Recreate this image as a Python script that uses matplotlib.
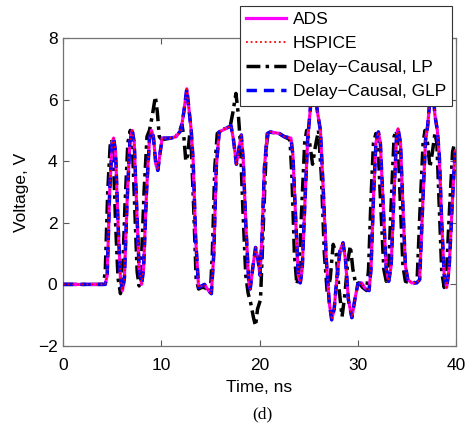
"""Transient voltage waveform comparison: ADS / HSPICE / Delay-Causal LP / GLP."""

import matplotlib
matplotlib.use("Agg")
import matplotlib.pyplot as plt

# ADS reference waveform (HSPICE and GLP overlay it almost exactly)
ads_t = [0, 4.3, 4.5, 4.75, 5.0, 5.15, 5.35, 5.6, 5.85, 6.05, 6.25, 6.5, 6.8, 7.05,
         7.25, 7.5, 7.75, 8.0, 8.2, 8.5, 8.8, 9.0, 9.2, 9.45, 9.65, 9.85, 10.1, 11.0,
         11.5, 12.0, 12.3, 12.6, 12.85, 13.05, 13.25, 13.5, 13.8, 14.1, 14.4, 14.8,
         15.1, 15.35, 15.6, 15.9, 16.5, 17.1, 17.35, 17.65, 17.9, 18.15, 18.35, 18.6,
         18.9, 19.05, 19.3, 19.6, 19.85, 20.05, 20.25, 20.5, 20.8, 21.1, 22.0, 22.5,
         23.2, 23.4, 23.7, 23.95, 24.15, 24.35, 24.6, 24.9, 25.2, 25.5, 25.9, 26.2,
         26.5, 26.8, 27.1, 27.35, 27.6, 27.9, 28.2, 28.5, 28.75, 29.05, 29.4, 29.7,
         30.0, 30.4, 30.8, 31.15, 31.35, 31.6, 31.85, 32.1, 32.3, 32.6, 32.9, 33.15,
         33.4, 33.7, 33.95, 34.1, 34.35, 34.6, 34.85, 35.1, 35.5, 36.0, 36.3, 36.6,
         36.9, 37.1, 37.4, 37.6, 37.85, 38.1, 38.3, 38.55, 38.8, 39.05, 39.3, 39.6,
         39.9, 40.0]
ads_v = [0, 0, 0.3, 3.0, 4.6, 4.75, 4.3, 2.0, 0.2, -0.2, 0.2, 2.5, 4.6, 5.0,
         4.6, 2.5, 0.5, 0.0, 0.5, 3.0, 4.7, 5.0, 4.8, 3.9, 3.7, 4.2, 4.75, 4.75,
         4.8, 5.0, 5.6, 6.35, 5.6, 5.0, 4.0, 1.5, -0.1, -0.05, 0.0, -0.2,
         -0.3, 1.0, 3.8, 4.95, 5.05, 5.15, 4.7, 3.9, 4.4, 4.85, 4.0, 2.0,
         0.1, -0.15, 0.5, 1.2, 0.8, 0.3, 1.5, 3.8, 4.9, 4.95, 4.9, 4.8,
         4.75, 4.2, 2.0, 0.3, 0.05, 0.5, 2.5, 4.7, 5.8, 6.6, 5.6, 5.0,
         3.0, 0.8, -0.6, -1.15, -0.8, 0.3, 1.1, 1.35, 0.8, -0.5, -1.08, -0.5,
         0.0, 0.05, -0.15, -0.2, 0.5, 2.8, 4.6, 4.95, 4.6, 2.5, 0.5, 0.1,
         0.6, 3.0, 4.8, 5.05, 4.6, 2.5, 0.6, 0.15, 0.05, 0.05, 0.15, 2.5,
         4.7, 5.1, 6.2, 6.6, 5.5, 5.0, 4.2, 2.0, 0.3, -0.1, 0.5, 2.5,
         4.3, 4.35]

# Delay-Causal, LP
lp_t = [0, 4.1, 4.3, 4.55, 4.8, 4.95, 5.1, 5.35, 5.6, 5.85, 6.05, 6.3, 6.6, 6.85,
        7.05, 7.3, 7.55, 7.75, 7.95, 8.25, 8.55, 8.8, 9.1, 9.4, 9.6, 9.8, 10.05,
        11.0, 11.5, 11.9, 12.1, 12.3, 12.5, 12.7, 12.9, 13.05, 13.3, 13.55, 13.8,
        14.1, 14.4, 14.8, 15.0, 15.2, 15.45, 15.7, 16.4, 17.0, 17.3, 17.6, 17.85,
        18.05, 18.3, 18.6, 18.85, 19.1, 19.4, 19.6, 19.8, 20.1, 20.4, 20.7, 20.9,
        22.0, 22.5, 23.1, 23.3, 23.55, 23.8, 24.0, 24.3, 24.6, 24.8, 25.1, 25.4,
        25.7, 26.0, 26.3, 26.6, 26.9, 27.2, 27.5, 27.8, 28.05, 28.4, 28.7, 29.0,
        29.25, 29.5, 29.8, 30.1, 30.5, 30.9, 31.1, 31.35, 31.6, 31.85, 32.05, 32.35,
        32.65, 32.9, 33.15, 33.45, 33.7, 33.9, 34.1, 34.35, 34.6, 34.85, 35.3, 35.8,
        36.05, 36.35, 36.65, 36.85, 37.1, 37.35, 37.6, 37.85, 38.05, 38.3, 38.55,
        38.8, 39.05, 39.35, 39.65, 39.85]
lp_v = [0, 0, 0.4, 3.0, 4.5, 4.7, 4.4, 2.0, 0.2, -0.3, 0.2, 2.5, 4.6, 5.0,
        4.6, 2.5, 0.4, -0.05, 0.5, 3.0, 4.8, 5.0, 5.5, 6.1, 5.6, 4.8, 4.7,
        4.75, 4.8, 5.0, 5.2, 4.8, 4.0, 4.2, 4.9, 4.5, 2.5, 0.2, -0.15,
        -0.1, -0.1, -0.2, -0.25, 1.0, 3.8, 4.9, 5.05, 5.1, 5.6, 6.2, 5.5,
        4.6, 2.5, 0.3, -0.3, -0.6, -1.1, -1.35, -0.8, -0.5, 2.0, 4.5, 4.95,
        4.9, 4.8, 4.7, 3.5, 1.0, 0.0, 0.3, 2.5, 4.6, 5.0, 4.6, 3.9,
        4.5, 5.0, 3.5, 1.0, -0.3, 0.2, 1.3, 1.0, 0.0, -1.05, -0.3, 0.8,
        1.25, 0.5, 0.0, 0.05, -0.1, -0.2, 0.5, 2.8, 4.6, 4.9, 4.6, 2.5,
        0.5, 0.1, 0.6, 3.0, 4.8, 5.0, 4.6, 2.5, 0.6, 0.1, 0.05, 0.05,
        0.2, 2.5, 4.6, 5.0, 4.6, 3.8, 4.3, 4.9, 4.6, 2.5, 0.4,
        -0.1, 0.5, 2.5, 4.3, 4.6]

X_TICKS = [0, 10, 20, 30, 40]
Y_TICKS = [-2, 0, 2, 4, 6, 8]

plt.rcParams["font.family"] = ["Liberation Sans", "DejaVu Sans"]
plt.rcParams["axes.unicode_minus"] = True


def main() -> None:
    fig = plt.figure(figsize=(4.71, 4.25), dpi=100)
    ax = fig.add_axes([63 / 471, 1 - 346 / 425, 393 / 471, 308 / 425])

    ax.plot(lp_t, lp_v, color="black", ls=(0, (4, 1.5, 1, 1.5)), lw=2.5,
            zorder=2, label="Delay\u2212Causal, LP")
    ax.plot(ads_t, ads_v, color="#ff00ff", ls="-", lw=2.3, zorder=3, label="ADS")
    ax.plot(ads_t, ads_v, color="blue", ls=(0, (3, 2)), lw=2.5, zorder=4,
            label="Delay\u2212Causal, GLP")
    ax.plot(ads_t, ads_v, color="red", ls=(0, (1, 1.6)), lw=1.3, zorder=5,
            label="HSPICE")

    ax.set_xlim(0, 40)
    ax.set_ylim(-2, 8)
    ax.set_xticks(X_TICKS)
    ax.set_yticks(Y_TICKS)
    ax.tick_params(direction="in", length=4, width=0.8, top=True, right=True,
                   labelsize=12.5, color="0.35")
    ax.tick_params(axis="x", pad=9)
    ax.tick_params(axis="y", pad=4)
    for sp in ax.spines.values():
        sp.set_color("0.45")
        sp.set_linewidth(0.9)

    ax.set_xlabel("Time, ns", fontsize=12.5, labelpad=5)
    ax.set_ylabel("Voltage, V", fontsize=12.5, labelpad=6)

    handles, labels = ax.get_legend_handles_labels()
    order = [labels.index(k) for k in
             ("ADS", "HSPICE", "Delay\u2212Causal, LP", "Delay\u2212Causal, GLP")]
    leg = ax.legend([handles[i] for i in order], [labels[i] for i in order],
                    loc="upper right", bbox_to_anchor=(0.99, 1.105),
                    fontsize=12.5, frameon=True, fancybox=False, framealpha=1,
                    edgecolor="0.2", borderaxespad=0, handlelength=2.3,
                    handletextpad=0.4, labelspacing=0.52, borderpad=0.35)
    leg.get_frame().set_linewidth(0.8)
    leg.set_zorder(10)

    fig.text(262 / 471, 1 - 414 / 425, "(d)", ha="center", va="center",
             fontsize=12.5, family="Liberation Serif")

    fig.savefig("out.png", dpi=100)
    plt.close(fig)


if __name__ == "__main__":
    main()
